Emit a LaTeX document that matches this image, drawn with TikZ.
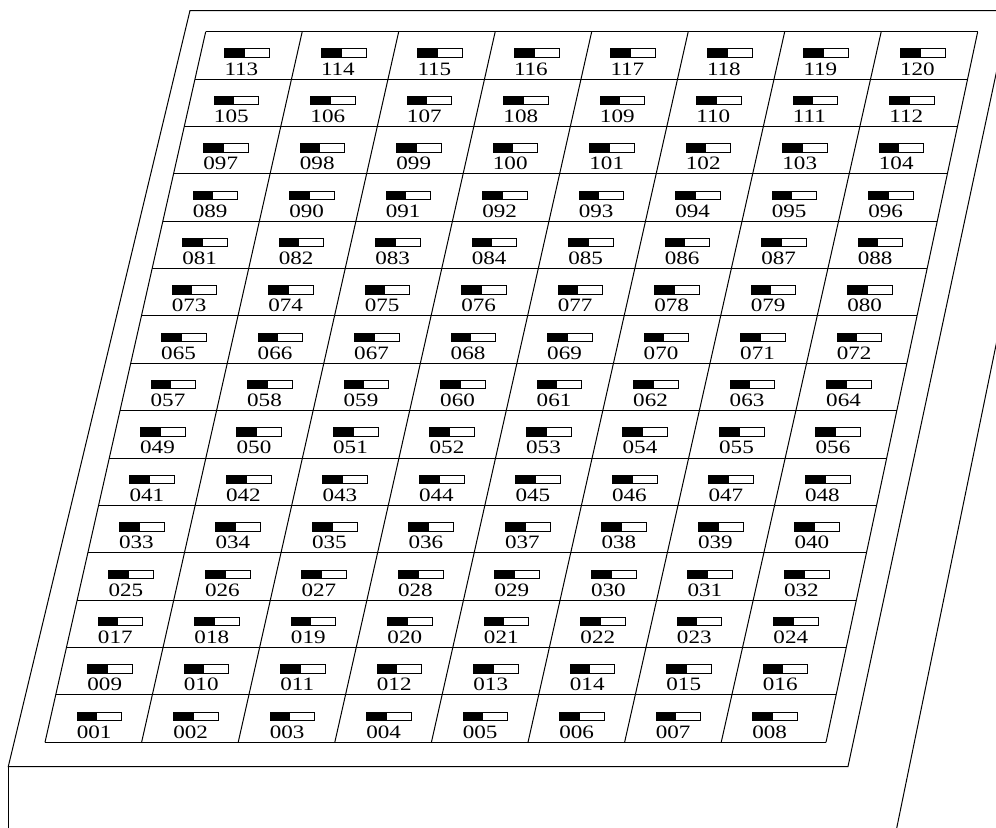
\documentclass[tikz,border=0pt]{standalone}
\usepackage{fontspec}
\newfontfamily\lblfont{Liberation Serif}[FakeStretch=1.22]
\newcommand\padnum[1]{\ifnum#1<10 00\else\ifnum#1<100 0\fi\fi#1}
\tikzset{
  edge/.style={line width=1bp, line join=miter},
  lbl/.style={anchor=base west, inner sep=0pt, font=\lblfont\fontsize{19}{19}\selectfont}
}
\begin{document}
\begin{tikzpicture}[x=1bp,y=-1bp]
\useasboundingbox (0,0) rectangle (996,828);
\begin{scope}
\clip (0,0) rectangle (996,828);
% top plate
\draw[edge] (190,10.5) -- (1009.6,10.5) -- (848,766.5) -- (8.3,766.5) -- cycle;
% box sides
\draw[edge] (8.3,766.5) -- (8.3,832);
\draw[edge] (1000,325.6) -- (895.9,832);
\end{scope}
% grid rows
\foreach \k in {0,...,15} {
  \pgfmathsetmacro\yy{31.7+47.373*\k}
  \pgfmathsetmacro\xl{205.7-0.22614*(\yy-31.7)}
  \pgfmathsetmacro\xr{977.7-0.21348*(\yy-31.7)}
  \draw[edge] (\xl,\yy) -- (\xr,\yy);
}
% grid columns
\foreach \c in {0,...,7} {
  \draw[edge] (205.7+96.5*\c,31.7) -- (45+96.6*\c,742.3);
}
\draw[edge] (977.7,31.7) -- (826,742.3);
% sliders and labels
\foreach \r in {0,...,14} {
  \foreach \c in {0,...,7} {
    \pgfmathsetmacro\ix{224.3+96.5*\c-10.543*\r}
    \pgfmathsetmacro\iy{48.4+47.373*\r}
    \pgfmathtruncatemacro\n{8*(14-\r)+\c+1}
    \fill (\ix,\iy) rectangle ++(20.7,9.4);
    \draw[line width=1bp] (\ix+0.5,\iy+0.5) rectangle ++(44.7,8.4);
    \node[lbl] (l\n) at (\ix,\iy+26.6) {\padnum{\n}};
  }
}
\end{tikzpicture}
\end{document}
